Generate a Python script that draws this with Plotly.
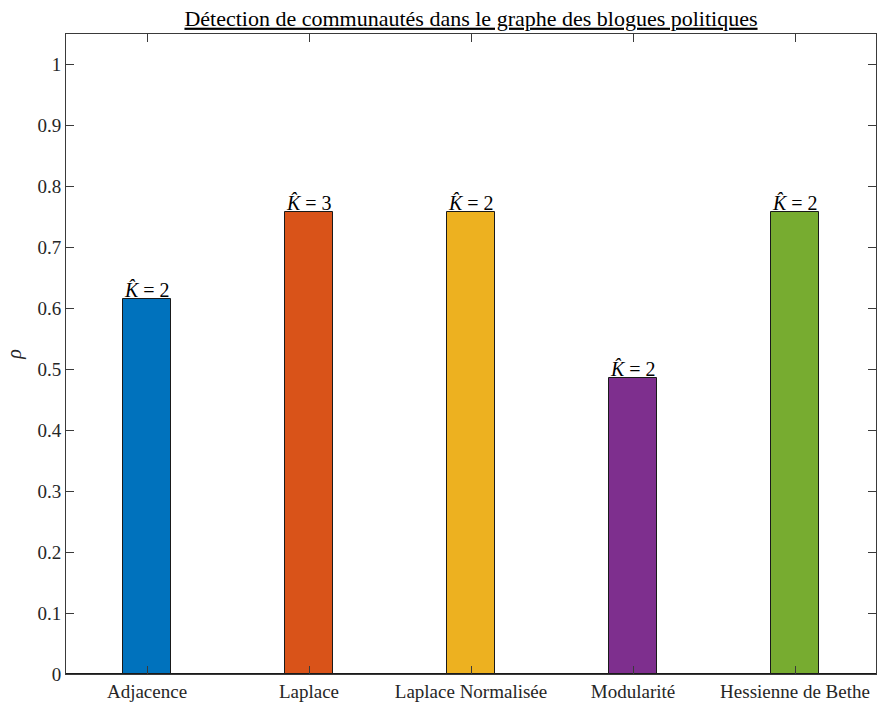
import plotly.graph_objects as go

# Community-detection scores per spectral method (political blogs graph)
methods = ["Adjacence", "Laplace", "Laplace Normalisée", "Modularité", "Hessienne de Bethe"]
rho = [0.6145, 0.7575, 0.7575, 0.4855, 0.7575]
k_hat = [2, 3, 2, 2, 2]
colors = ["#0072BD", "#D95319", "#EDB120", "#7E2F8E", "#77AC30"]
y_ticks = [round(0.1 * i, 1) for i in range(11)]
y_tick_labels = ["0", "0.1", "0.2", "0.3", "0.4", "0.5", "0.6", "0.7", "0.8", "0.9", "1"]

FONT = "Liberation Serif"
AXIS = "#3a3a3a"

x_pos = list(range(1, len(methods) + 1))

fig = go.Figure()
fig.add_trace(go.Bar(
    x=x_pos, y=rho, width=0.3,
    marker=dict(color=colors, line=dict(color="#1a1a1a", width=1)),
    hoverinfo="skip",
))

for x, v, k in zip(x_pos, rho, k_hat):
    fig.add_annotation(
        x=x, y=v, text=f"<i>K\u0302</i> = {k}", showarrow=False,
        xanchor="center", yanchor="bottom", yshift=-4,
        font=dict(family=FONT, size=20, color="black"),
    )

fig.update_layout(
    width=881, height=707,
    margin=dict(l=66, r=5, t=34, b=33),
    paper_bgcolor="white", plot_bgcolor="white",
    showlegend=False,
    font=dict(family=FONT, size=19, color="#262626"),
    title=dict(
        text="<u>Détection de communautés dans le graphe des blogues politiques</u>",
        x=(66 + 876) / 2 / 881, xanchor="center", y=1 - 18 / 707, yanchor="middle",
        font=dict(family=FONT, size=22, color="black"),
    ),
    bargap=0,
)

fig.update_xaxes(
    range=[0.5, 5.5], tickvals=x_pos, ticktext=methods,
    ticks="inside", ticklen=8, tickcolor=AXIS, tickwidth=1,
    showline=True, linecolor=AXIS, linewidth=1, mirror="ticks",
    showgrid=False, zeroline=False,
    tickfont=dict(family=FONT, size=19, color="#262626"),
)
fig.update_yaxes(
    range=[0, 1.05], tickvals=y_ticks, ticktext=y_tick_labels,
    ticks="inside", ticklen=8, tickcolor=AXIS, tickwidth=1,
    showline=True, linecolor=AXIS, linewidth=1, mirror="ticks",
    showgrid=False, zeroline=True, zerolinecolor="#1a1a1a", zerolinewidth=1.5,
    tickfont=dict(family=FONT, size=19, color="#262626"),
    title=dict(text="<i>ρ</i>", font=dict(family=FONT, size=20, color="#262626"), standoff=10),
)

fig.write_html("out.html")
